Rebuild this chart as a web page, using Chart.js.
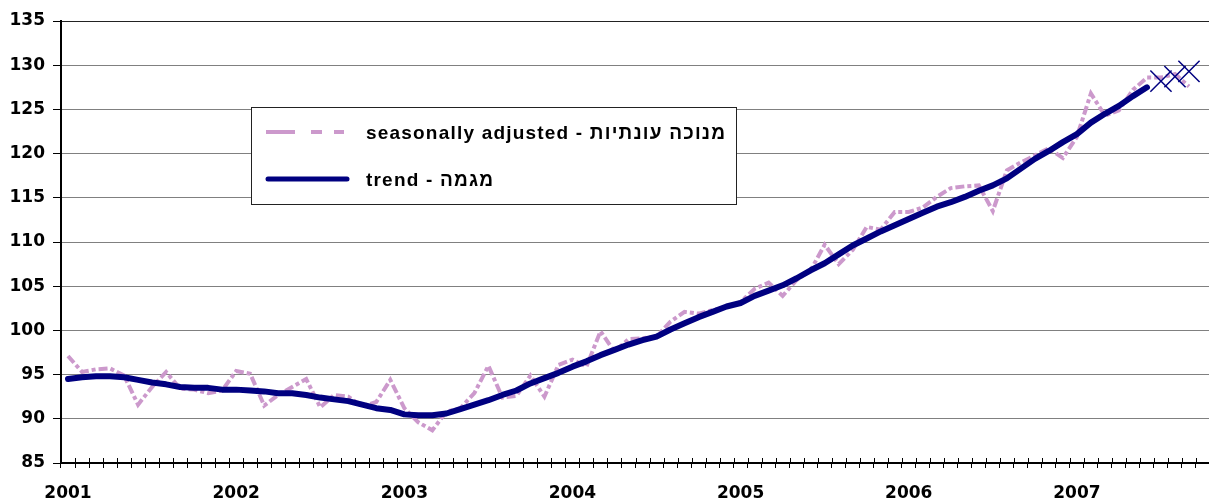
<!DOCTYPE html>
<html><head><meta charset="utf-8">
<script src="https://cdn.jsdelivr.net/npm/chart.js@4.4.1/dist/chart.umd.min.js"></script>
<style>
html,body{margin:0;padding:0;background:#fff;overflow:hidden;width:1209px;height:502px}
#wrap{position:relative;width:1212px;height:502px}
.lg{position:absolute;left:366px;height:20px;line-height:20px;font:bold 19px "Liberation Sans",Arial,sans-serif;letter-spacing:1.2px;color:#000;white-space:nowrap;direction:ltr;unicode-bidi:plaintext}
</style></head>
<body><div id="wrap"><canvas id="c" width="1212" height="502"></canvas>
<div class="lg" id="lg0" style="top:122px"></div>
<div class="lg" id="lg1" style="top:169px"></div>
</div>
<script>
// ---- data ----
const years = ['2001','2002','2003','2004','2005','2006','2007'];
const monthNames = ['01','02','03','04','05','06','07','08','09','10','11','12'];
const monthCount = 82; // Jan 2001 .. Oct 2007
const categories = [];
years.forEach(y => monthNames.forEach(m => categories.push(y + '-' + m)));
categories.length = monthCount;

const seasonallyAdjusted = [
  97.1, 95.3, 95.6, 95.7, 94.9, 91.6, 93.6, 95.3, 93.4, 93.3, 92.9, 93.2,
  95.4, 95.1, 91.5, 92.7, 93.6, 94.5, 91.3, 92.7, 92.5, 91.4, 91.9, 94.4,
  91.2, 89.6, 88.7, 90.8, 91.2, 92.9, 96.0, 92.4, 92.6, 94.9, 92.5, 96.1,
  96.7, 95.9, 99.9, 97.6, 99.0, 99.1, 99.3, 101.0, 102.1, 101.9, 102.3, 102.6,
  103.2, 104.7, 105.4, 103.9, 105.7, 106.8, 109.7, 107.5, 109.1, 111.7, 111.4, 113.4,
  113.4, 113.9, 115.1, 116.1, 116.3, 116.4, 113.5, 118.1, 119.0, 119.8, 120.6, 119.5,
  121.9, 126.8, 124.3, 124.9, 127.2, 128.6, 128.6, 129.0, 127.6, null
];
const trend = [
  94.5, 94.7, 94.8, 94.8, 94.7, 94.4, 94.1, 93.9, 93.6, 93.5, 93.5, 93.3,
  93.3, 93.2, 93.1, 92.9, 92.9, 92.7, 92.4, 92.2, 92.0, 91.6, 91.2, 91.0,
  90.5, 90.4, 90.4, 90.6, 91.1, 91.6, 92.1, 92.7, 93.2, 94.0, 94.6, 95.2,
  95.9, 96.5, 97.2, 97.8, 98.4, 98.9, 99.3, 100.1, 100.8, 101.5, 102.1, 102.7,
  103.1, 103.9, 104.5, 105.1, 105.9, 106.8, 107.6, 108.6, 109.6, 110.4, 111.2, 111.9,
  112.6, 113.3, 114.0, 114.5, 115.1, 115.8, 116.4, 117.2, 118.3, 119.4, 120.3, 121.3,
  122.2, 123.5, 124.5, 125.4, 126.5, 127.5, null, null, null, null
];
const forecast = [
  null,null,null,null,null,null,null,null,null,null,null,null,
  null,null,null,null,null,null,null,null,null,null,null,null,
  null,null,null,null,null,null,null,null,null,null,null,null,
  null,null,null,null,null,null,null,null,null,null,null,null,
  null,null,null,null,null,null,null,null,null,null,null,null,
  null,null,null,null,null,null,null,null,null,null,null,null,
  null,null,null,null,null,null, 128.2, 128.7, 129.3, null
];
const yTicks = { min: 85, max: 135, step: 5 };
const labelSA = 'seasonally adjusted - מנוכה עונתיות';
const labelTrend = 'trend - מגמה';

// ---- plugins ----
const crossTicks = {
  id: 'crossTicks',
  afterDraw(chart) {
    const xs = chart.scales.x, c = chart.ctx;
    const half = (xs.getPixelForValue(1) - xs.getPixelForValue(0)) / 2;
    c.save(); c.strokeStyle = '#000'; c.lineWidth = 1;
    for (let i = 0; i <= categories.length; i++) {
      const px = Math.round(xs.getPixelForValue(i) - half) + 0.5;
      c.beginPath(); c.moveTo(px, xs.top - 5); c.lineTo(px, xs.top); c.stroke();
    }
    c.restore();
  }
};
const boxLegend = {
  id: 'boxLegend',
  afterDraw(chart) {
    const c = chart.ctx;
    const ds = chart.data.datasets;
    c.save();
    c.fillStyle = '#fff'; c.strokeStyle = '#222'; c.lineWidth = 1;
    c.fillRect(251.5, 107.5, 485, 97);
    c.strokeRect(251.5, 107.5, 485, 97);
    c.strokeStyle = ds[0].borderColor; c.lineWidth = 4; c.lineCap = 'butt';
    c.setLineDash([29, 16, 11, 12]);
    c.beginPath(); c.moveTo(266, 132); c.lineTo(344, 132); c.stroke();
    c.setLineDash([]);
    c.strokeStyle = ds[1].borderColor; c.lineWidth = 5; c.lineCap = 'round';
    c.beginPath(); c.moveTo(268, 179); c.lineTo(347, 179); c.stroke();
    c.restore();
    document.getElementById('lg0').textContent = ds[0].label;
    document.getElementById('lg1').textContent = ds[1].label;
  }
};

const tickFont = { family: '"DejaVu Sans"', size: 17, weight: 'bold' };

new Chart(document.getElementById('c'), {
  type: 'line',
  data: {
    labels: categories,
    datasets: [
      { label: labelSA, data: seasonallyAdjusted, borderColor: '#CC99CC', borderWidth: 4,
        borderDash: [9, 3, 4, 3], pointRadius: 0, tension: 0, order: 2, spanGaps: false },
      { label: labelTrend, data: trend, borderColor: '#000080', borderWidth: 6,
        borderCapStyle: 'round', borderJoinStyle: 'round', pointRadius: 0, tension: 0, order: 1 },
      { label: 'forecast', data: forecast, showLine: false, pointStyle: 'crossRot',
        pointRadius: 15, pointBorderColor: '#000080', pointBorderWidth: 1.5,
        borderColor: '#000080', order: 0, clip: false }
    ]
  },
  options: {
    responsive: false, animation: false, devicePixelRatio: 1,
    layout: { autoPadding: false, padding: { top: 21, right: 2, left: 0, bottom: 0 } },
    plugins: { legend: { display: false }, tooltip: { enabled: false } },
    scales: {
      x: {
        type: 'category', offset: true,
        grid: { offset: true, drawOnChartArea: false, drawTicks: true, tickLength: 5, color: '#000', lineWidth: 1 },
        border: { color: '#000', width: 2 },
        ticks: { autoSkip: false, maxRotation: 0, minRotation: 0, padding: 15, color: '#000', font: tickFont,
          callback: (v, i) => (i % 12 === 0 ? years[i / 12] : '') },
        afterFit: s => { s.height = 39; s.paddingLeft = 0; s.paddingRight = 0; }
      },
      y: {
        min: yTicks.min, max: yTicks.max,
        grid: { color: c => (c.tick && c.tick.value === 135 ? '#222' : '#808080'), lineWidth: 1,
          tickLength: 8, tickColor: '#000' },
        border: { color: '#000', width: 2 },
        ticks: { stepSize: yTicks.step, padding: 8, color: '#000', font: tickFont },
        afterFit: s => { s.width = 61; s.paddingTop = 0; s.paddingBottom = 0; }
      }
    }
  },
  plugins: [crossTicks, boxLegend]
});
</script>
</body></html>
